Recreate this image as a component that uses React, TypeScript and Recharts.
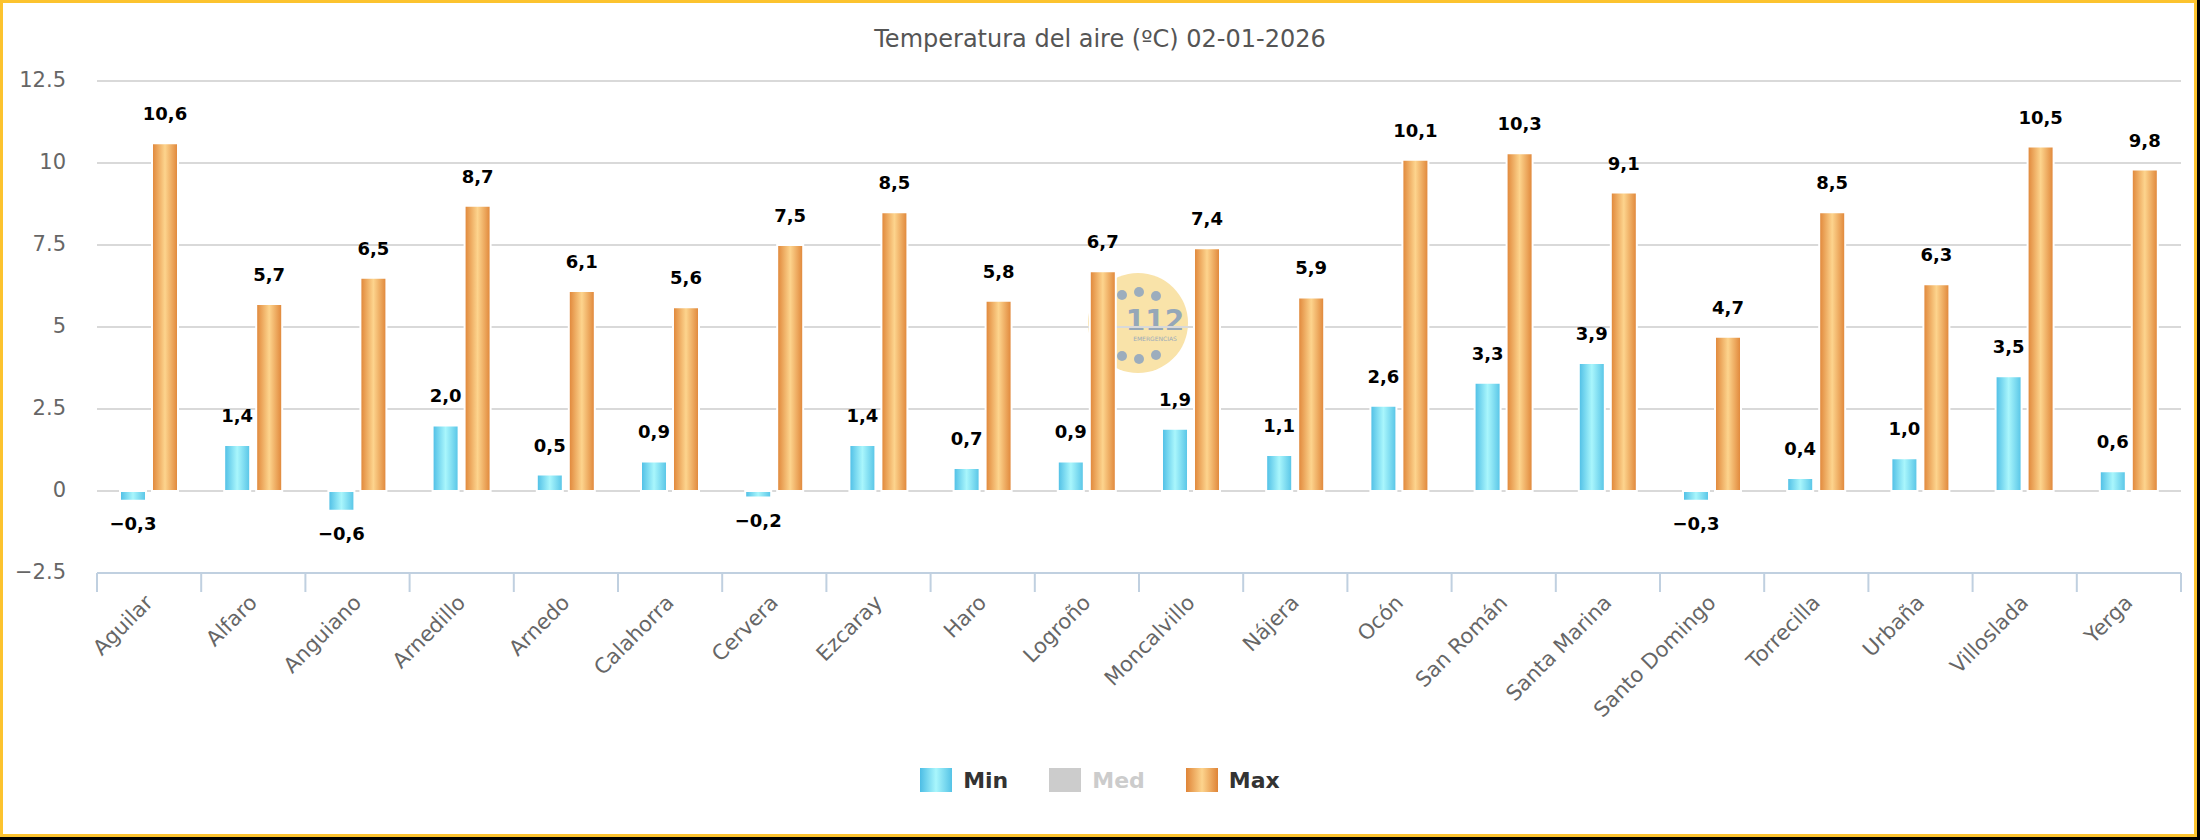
import React from 'react';
import { BarChart, Bar, XAxis, YAxis, CartesianGrid, LabelList, Legend } from 'recharts';

// Weather stations and their daily air temperatures (ºC)
const stations = [
  'Aguilar', 'Alfaro', 'Anguiano', 'Arnedillo', 'Arnedo', 'Calahorra', 'Cervera', 'Ezcaray',
  'Haro', 'Logroño', 'Moncalvillo', 'Nájera', 'Ocón', 'San Román', 'Santa Marina',
  'Santo Domingo', 'Torrecilla', 'Urbaña', 'Villoslada', 'Yerga',
];
const minTemps = [-0.3, 1.4, -0.6, 2.0, 0.5, 0.9, -0.2, 1.4, 0.7, 0.9, 1.9, 1.1, 2.6, 3.3, 3.9, -0.3, 0.4, 1.0, 3.5, 0.6];
const maxTemps = [10.6, 5.7, 6.5, 8.7, 6.1, 5.6, 7.5, 8.5, 5.8, 6.7, 7.4, 5.9, 10.1, 10.3, 9.1, 4.7, 8.5, 6.3, 10.5, 9.8];
const yTicks = [-2.5, 0, 2.5, 5, 7.5, 10, 12.5];
const seriesNames = ['Min', 'Med', 'Max'];
const hiddenSeries = ['Med'];
const chartTitle = 'Temperatura del aire (ºC) 02-01-2026';

const data = stations.map((name, i) => ({ name, min: minTemps[i], max: maxTemps[i] }));

// Layout
const W = 2200;
const H = 840;
const PLOT_LEFT = 97;
const PLOT_RIGHT = 2181;
const PLOT_TOP = 81;
const AXIS_Y = 573;
const X_AXIS_H = 140;
const BAND = (PLOT_RIGHT - PLOT_LEFT) / stations.length;
const FONT = '"DejaVu Sans", Verdana, sans-serif';
const AXIS_COLOR = '#c0d0e0';

const swatches: Record<string, string> = {
  Min: 'linear-gradient(to right, #4cbde5 0%, #a9f6fc 50%, #55c3e6 100%)',
  Med: '#cccccc',
  Max: 'linear-gradient(to right, #df8437 0%, #fdd48d 50%, #df8437 100%)',
};

const fmtValue = (v: number) => v.toFixed(1).replace('.', ',').replace('-', '\u2212');
const fmtTick = (v: number) => String(v).replace('-', '\u2212');

const YTick = (props: any) => {
  const { y, payload } = props;
  return (
    <text x={PLOT_LEFT - 31} y={y + 6} textAnchor="end" fontSize={21} fill="#666" fontFamily={FONT}>
      {fmtTick(payload.value)}
    </text>
  );
};

const XTick = (props: any) => {
  const { x, payload, index } = props;
  const left = x - BAND / 2;
  const ax = x + 5;
  const ay = AXIS_Y + 31;
  return (
    <g>
      <line x1={left} x2={left} y1={AXIS_Y} y2={AXIS_Y + 19} stroke={AXIS_COLOR} strokeWidth={2} />
      {index === stations.length - 1 && (
        <line x1={x + BAND / 2} x2={x + BAND / 2} y1={AXIS_Y} y2={AXIS_Y + 19} stroke={AXIS_COLOR} strokeWidth={2} />
      )}
      <text
        x={ax}
        y={ay}
        transform={`rotate(-45, ${ax}, ${ay})`}
        textAnchor="end"
        fontSize={21}
        fill="#666"
        fontFamily={FONT}
      >
        {payload.value}
      </text>
    </g>
  );
};

const renderValueLabel = (props: any) => {
  const { x, y, width, height, value } = props;
  if (value === undefined || value === null) return null;
  const cx = x + width / 2;
  const top = Math.min(y, y + height);
  const bottom = Math.max(y, y + height);
  const ty = value >= 0 ? top - 23 : bottom + 29;
  return (
    <text x={cx} y={ty} textAnchor="middle" fontSize={18} fontWeight="bold" fill="#000" fontFamily={FONT}>
      {fmtValue(Number(value))}
    </text>
  );
};

const renderLegend = () => (
  <div
    style={{
      display: 'flex',
      justifyContent: 'center',
      alignItems: 'center',
      gap: 41,
      width: W,
      fontFamily: FONT,
    }}
  >
    {seriesNames.map((name) => {
      const hidden = hiddenSeries.includes(name);
      return (
        <div key={name} style={{ display: 'flex', alignItems: 'center' }}>
          <div style={{ width: 32, height: 24, background: swatches[name], marginRight: 11 }} />
          <span
            style={{
              fontSize: 22,
              fontWeight: 'bold',
              color: hidden ? '#cccccc' : '#333333',
              lineHeight: '24px',
              paddingTop: 3,
            }}
          >
            {name}
          </span>
        </div>
      );
    })}
  </div>
);

// Emergency-service emblem printed behind the plot
const Emblem = () => {
  const cx = 1138;
  const cy = 323;
  const dotsTop = [[1122, 295], [1139, 292], [1156, 296]];
  const dotsBottom = [[1122, 356], [1139, 359], [1156, 355]];
  return (
    <g opacity={0.9}>
      <circle cx={cx} cy={cy} r={50} fill="#f9e0a0" />
      {[...dotsTop, ...dotsBottom].map(([dx, dy], i) => (
        <circle key={i} cx={dx} cy={dy} r={5} fill="#92a5b6" />
      ))}
      <text x={1155} y={330} textAnchor="middle" fontSize={28} fontWeight="bold" fill="#8a9eb1" fontFamily={FONT}>
        112
      </text>
      <text x={1155} y={341} textAnchor="middle" fontSize={6} fill="#8fa2b4" fontFamily={FONT}>
        EMERGENCIAS
      </text>
    </g>
  );
};

export default function App() {
  return (
    <div style={{ position: 'absolute', left: 0, top: 0, width: W, height: H, background: '#000', overflow: 'hidden' }}>
      <div
        style={{
          position: 'absolute',
          left: 0,
          top: 0,
          width: W - 3,
          height: H - 3,
          boxSizing: 'border-box',
          border: '3px solid #fcc32f',
          background: '#fff',
        }}
      />
      <svg width={W} height={H} style={{ position: 'absolute', left: 0, top: 0 }}>
        <defs>
          <linearGradient id="gradMin" x1="0" y1="0" x2="1" y2="0">
            <stop offset="0%" stopColor="#4cbde5" />
            <stop offset="50%" stopColor="#a9f6fc" />
            <stop offset="100%" stopColor="#55c3e6" />
          </linearGradient>
          <linearGradient id="gradMax" x1="0" y1="0" x2="1" y2="0">
            <stop offset="0%" stopColor="#df8437" />
            <stop offset="50%" stopColor="#fdd48d" />
            <stop offset="100%" stopColor="#df8437" />
          </linearGradient>
        </defs>
        <Emblem />
        <text x={W / 2} y={47} textAnchor="middle" fontSize={24} fill="#555" fontFamily={FONT}>
          {chartTitle}
        </text>
      </svg>
      <div style={{ position: 'absolute', left: 0, top: 0 }}>
        <BarChart
          width={W}
          height={H}
          data={data}
          margin={{ top: PLOT_TOP, right: W - PLOT_RIGHT, left: 0, bottom: H - AXIS_Y - X_AXIS_H }}
          barGap={6}
          style={{ fontFamily: FONT }}
        >
          <CartesianGrid vertical={false} stroke="#d9d9d9" strokeWidth={2} />
          <XAxis
            dataKey="name"
            interval={0}
            height={X_AXIS_H}
            tickLine={false}
            axisLine={{ stroke: AXIS_COLOR, strokeWidth: 2 }}
            tick={<XTick />}
          />
          <YAxis
            domain={[-2.5, 12.5]}
            ticks={yTicks}
            interval={0}
            width={PLOT_LEFT}
            axisLine={false}
            tickLine={false}
            tick={<YTick />}
          />
          <Legend
            layout="vertical"
            align="center"
            verticalAlign="middle"
            wrapperStyle={{ top: 766, left: 0, width: W }}
            content={renderLegend}
          />
          <Bar dataKey="min" name="Min" fill="url(#gradMin)" stroke="#fff" strokeWidth={2} barSize={26} isAnimationActive={false}>
            <LabelList dataKey="min" content={renderValueLabel} />
          </Bar>
          <Bar dataKey="max" name="Max" fill="url(#gradMax)" stroke="#fff" strokeWidth={2} barSize={26} isAnimationActive={false}>
            <LabelList dataKey="max" content={renderValueLabel} />
          </Bar>
        </BarChart>
      </div>
    </div>
  );
}
